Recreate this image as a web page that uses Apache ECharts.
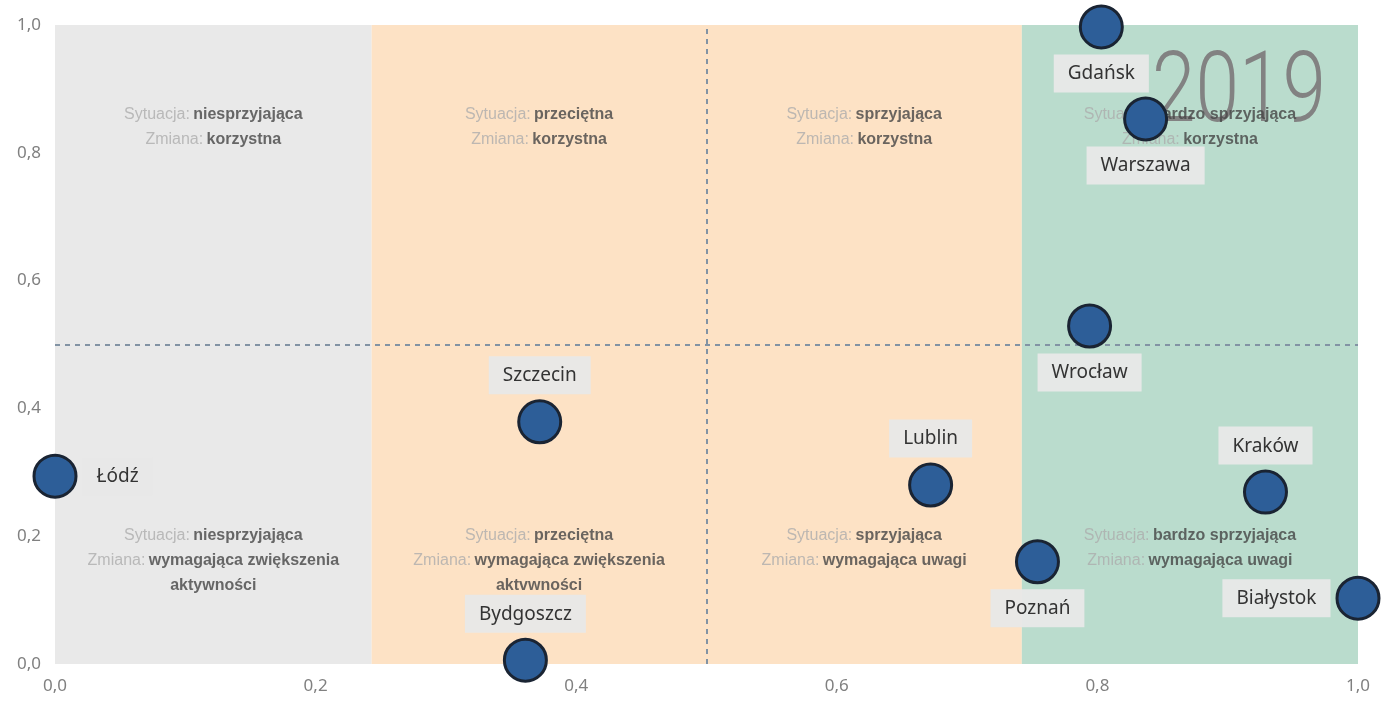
<!DOCTYPE html>
<html>
<head>
<meta charset="utf-8">
<script src="https://cdn.jsdelivr.net/npm/echarts@6/dist/echarts.min.js"></script>
<style>html,body{margin:0;padding:0;background:#fff;}#c{width:1396px;height:707px;}</style>
</head>
<body>
<div id="c"></div>
<script>
const cities = ['Gdańsk','Warszawa','Wrocław','Szczecin','Łódź','Lublin','Kraków','Poznań','Białystok','Bydgoszcz'];
const xVals = [0.803,0.837,0.794,0.372,0.0,0.672,0.929,0.754,1.0,0.361];
const yVals = [0.997,0.853,0.529,0.379,0.294,0.280,0.269,0.160,0.103,0.006];
const axisTicks = [0,0.2,0.4,0.6,0.8,1.0];
const zoneEdges = [0,0.243,0.742,1];
const zoneColors = ['#e9e9e9','#fde2c5','#badccd'];
const quadEdges = [0,0.243,0.5,0.742,1];
const situations = ['niesprzyjająca','przeciętna','sprzyjająca','bardzo sprzyjająca'];
const topChanges = ['korzystna','korzystna','korzystna','korzystna'];
const bottomChanges = [['wymagająca zwiększenia','aktywności'],['wymagająca zwiększenia','aktvwności'],['wymagająca uwagi'],['wymagająca uwagi']];
const yearLabel = '2019';

const labelPos = {'Gdańsk':'bottom','Warszawa':'bottom','Wrocław':'bottom','Szczecin':'top','Łódź':'right','Lublin':'top','Kraków':'top','Poznań':'bottom','Białystok':'left','Bydgoszcz':'top'};

const fmt = v => v.toFixed(1).replace('.', ',');

const chart = echarts.init(document.getElementById('c'));

const markAreas = [];
for (let i = 0; i < zoneColors.length; i++) {
  markAreas.push([{xAxis: zoneEdges[i], yAxis: 0, itemStyle: {color: zoneColors[i]}}, {xAxis: zoneEdges[i+1], yAxis: 1}]);
}

const zoneTextData = [];
for (let i = 0; i < situations.length; i++) {
  const cx = (quadEdges[i] + quadEdges[i+1]) / 2;
  zoneTextData.push({value: [cx, 0.879], text: '{a|Sytuacja:} {b|' + situations[i] + '}\n{a|Zmiana:} {b|' + topChanges[i] + '}'});
  const bc = bottomChanges[i];
  let t = '{a|Sytuacja:} {b|' + situations[i] + '}\n{a|Zmiana:} {b|' + bc[0] + '}';
  for (let k = 1; k < bc.length; k++) t += '\n{b|' + bc[k] + '}';
  zoneTextData.push({value: [cx, 0.221], text: t});
}

const pointData = cities.map((c, i) => ({
  name: c,
  value: [xVals[i], yVals[i]],
  label: {position: labelPos[c]}
}));

const axisCommon = {
  type: 'value', min: 0, max: 1, interval: 0.2,
  axisLine: {show: false}, axisTick: {show: false}, splitLine: {show: false},
  axisLabel: {color: '#808080', fontSize: 17, fontFamily: 'Noto Sans', formatter: v => fmt(v), margin: 14}
};

chart.setOption({
  animation: false,
  grid: {left: 55, right: 38, top: 25, bottom: 43, containLabel: false},
  xAxis: Object.assign({}, axisCommon),
  yAxis: Object.assign({}, axisCommon),
  graphic: {
    elements: [{
      type: 'text', z: 5, zlevel: 0, x: 1239, y: 96, scaleX: 0.8, silent: true,
      style: {text: yearLabel, fontSize: 98, fontFamily: 'Roboto', fontWeight: 300, fill: '#828282', textAlign: 'center', textVerticalAlign: 'middle', align: 'center', verticalAlign: 'middle'}
    }]
  },
  series: [
    {
      type: 'scatter', z: 1, data: [], silent: true,
      markArea: {silent: true, data: markAreas},
      markLine: {
        silent: true, symbol: 'none',
        label: {show: false},
        lineStyle: {color: '#8293a4', type: [5, 5], width: 2},
        data: [{xAxis: 0.5}, {yAxis: 0.5}]
      }
    },
    {
      type: 'scatter', z: 6, silent: true, symbolSize: 0,
      data: zoneTextData,
      label: {
        show: true, position: 'inside', align: 'center', verticalAlign: 'top',
        formatter: p => p.data.text, lineHeight: 25,
        rich: {
          a: {color: '#adadad', fontSize: 16, fontFamily: 'Liberation Sans', lineHeight: 25},
          b: {color: '#454545', fontSize: 16, fontFamily: 'Liberation Sans', fontWeight: 'bold', lineHeight: 25}
        }
      }
    },
    {
      type: 'scatter', z: 10, clip: false,
      symbol: 'circle', symbolSize: 42,
      itemStyle: {color: '#2d5e98', borderColor: '#1a2433', borderWidth: 3, opacity: 1},
      label: {
        show: true, formatter: p => p.name, distance: 5,
        color: '#333', fontSize: 19, fontFamily: 'Noto Sans',
        backgroundColor: 'rgba(232,232,232,0.95)', padding: [10, 14, 9, 14]
      },
      data: pointData
    }
  ]
});
</script>
</body>
</html>
